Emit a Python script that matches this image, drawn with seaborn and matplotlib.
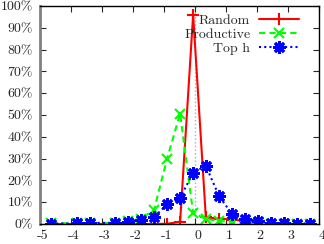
import numpy as np
import pandas as pd
import matplotlib
matplotlib.use("Agg")
import matplotlib.pyplot as plt
import matplotlib.transforms as mtransforms
import seaborn as sns

# -------------------------
# data (percent)
# -------------------------
x_vals = [-4.65, -3.8, -3.4, -2.58, -2.16, -1.74, -1.32, -0.9, -0.48, -0.06,
          0.35, 0.77, 1.19, 1.6, 2.02, 2.44, 2.86, 3.28, 3.7]
random_pct = [0, 0, 0, 0, 0, 0, 0, 0.1, 1.0, 96.0,
              3.0, 2.5, 2.0, 1.5, 1.0, 0, 0, 0, 0]
productive_pct = [0.3, 0.3, 0.5, 0.5, 1.2, 2.5, 6.5, 30.0, 50.7, 5.0,
                  2.3, 1.4, 1.0, 0.5, 0.3, 0.1, 0.1, 0.1, 0.1]
toph_pct = [0.2, 0.3, 0.5, 0.5, 1.0, 1.8, 3.2, 9.0, 12.0, 23.5,
            26.7, 13.0, 4.6, 2.3, 1.4, 0.5, 0.3, 0.2, 0.2]

x_ticks = [-5, -4, -3, -2, -1, 0, 1, 2, 3, 4]
y_ticks = list(range(0, 101, 10))
y_tick_labels = [f"{v}%" for v in y_ticks]

df = pd.DataFrame({"x": x_vals, "Random": random_pct,
                   "Productive": productive_pct, "Top h": toph_pct})

sns.set_style("ticks")
plt.rcParams["font.family"] = ["cmr10", "DejaVu Serif"]
plt.rcParams["axes.formatter.use_mathtext"] = True
plt.rcParams["axes.unicode_minus"] = False

fig = plt.figure(figsize=(3.24, 2.44), dpi=100)
ax = fig.add_axes([0.1235, 0.082, 0.861, 0.893])

# gray dotted line at zero
ax.axvline(0, color="#b0b0b0", linestyle=":", linewidth=1, zorder=0)

sns.lineplot(data=df, x="x", y="Random", ax=ax, color="#ff0000", linewidth=1.5,
             linestyle="-", marker="+", markersize=9, markeredgewidth=1.5,
             markeredgecolor="#ff0000", label="Random")
sns.lineplot(data=df, x="x", y="Productive", ax=ax, color="#00ff00", linewidth=1.5,
             linestyle=(0, (3, 2)), marker="x", markersize=7, markeredgewidth=1.5,
             markeredgecolor="#00ff00", label="Productive")
sns.lineplot(data=df, x="x", y="Top h", ax=ax, color="#0000ff", linewidth=1.5,
             linestyle=(0, (1, 1.5)), marker=(8, 2, 0), markersize=9, markeredgewidth=2.0,
             markeredgecolor="#0000ff", label="Top h")

ax.set_xlim(-5, 4)
ax.set_ylim(0, 100)
ax.set_xticks(x_ticks)
ax.set_xticklabels([str(v) for v in x_ticks])
ax.set_yticks(y_ticks)
ax.set_yticklabels(y_tick_labels)
ax.set_xlabel("")
ax.set_ylabel("")
ax.tick_params(direction="in", top=True, right=True, length=4, width=0.8,
               labelsize=10)
ax.tick_params(axis="x", pad=4.5)
ax.tick_params(axis="y", pad=5)

# gnuplot-style: x labels sit a little right of their ticks
shift = mtransforms.ScaledTranslation(3 / 100, 0, fig.dpi_scale_trans)
for lbl in ax.get_xticklabels():
    lbl.set_transform(lbl.get_transform() + shift)

for s in ["top", "right", "bottom"]:
    ax.spines[s].set_color("black")
    ax.spines[s].set_linewidth(1.0)
ax.spines["left"].set_color("#808080")
ax.spines["left"].set_linewidth(2.0)

leg = ax.legend(loc="upper right", bbox_to_anchor=(0.943, 0.982), frameon=False,
                markerfirst=False, fontsize=10, handlelength=2.9, handletextpad=0.6,
                labelspacing=0.1, borderaxespad=0.1, borderpad=0.2)
for t in leg.get_texts():
    t.set_ha("right")

fig.savefig("out.png", dpi=100)
